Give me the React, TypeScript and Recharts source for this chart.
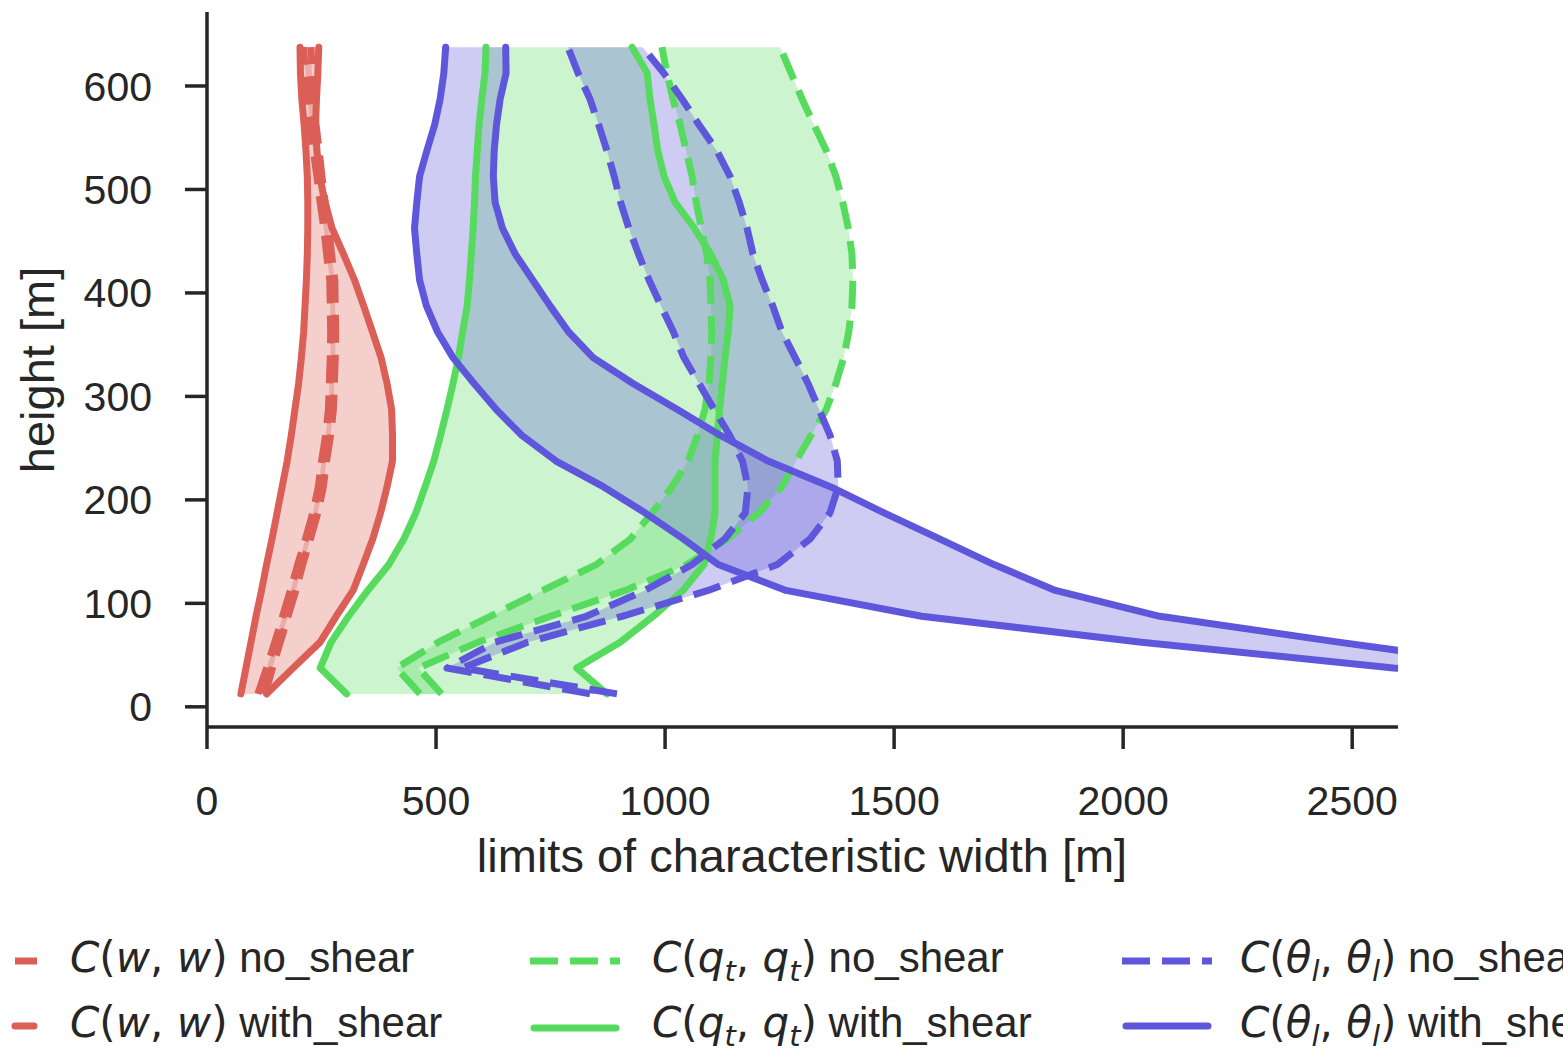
import React from 'react';
import { Area, ComposedChart, Line, XAxis, YAxis } from 'recharts';

// heights of the profile levels [m], bottom to top
const heights = [
  12.5, 37.5, 62.5, 87.5, 112.5, 137.5, 162.5, 187.5, 212.5, 237.5, 262.5, 287.5, 312.5,
  337.5, 362.5, 387.5, 412.5, 437.5, 462.5, 487.5, 512.5, 537.5, 562.5, 587.5, 612.5, 637.5,
];

// lower / upper limits of characteristic width [m] per level
const wNoShearLo = [111, 130, 148, 165, 182, 198, 215, 231, 243, 250, 259, 265, 267, 269, 270, 269, 268, 261, 255, 247, 240, 232, 225, 219, 215, 210];
const wNoShearHi = [127, 143, 160, 177, 194, 209, 226, 242, 254, 261, 270, 276, 278, 280, 281, 280, 279, 272, 266, 258, 251, 245, 238, 232, 229, 227];
const wShearLo = [74, 85, 96, 107, 119, 130, 142, 153, 164, 175, 184, 192, 200, 206, 211, 214, 217, 219, 220, 220, 219, 216, 212, 207, 204, 203];
const wShearHi = [130, 188, 247, 282, 319, 341, 362, 379, 393, 405, 405, 403, 393, 380, 361, 342, 322, 298, 273, 258, 246, 240, 237, 239, 242, 244];

const qNoShearLo = [465, 414, 505, 618, 733, 850, 925, 972, 1015, 1050, 1071, 1087, 1096, 1100, 1102, 1100, 1098, 1091, 1079, 1068, 1059, 1046, 1033, 1017, 1004, 993];
const qNoShearHi = [512, 461, 592, 750, 913, 1048, 1137, 1205, 1255, 1286, 1319, 1352, 1373, 1390, 1401, 1408, 1410, 1408, 1400, 1388, 1373, 1352, 1325, 1299, 1275, 1251];
const qShearLo = [305, 247, 271, 309, 351, 397, 430, 456, 476, 495, 510, 524, 537, 549, 558, 568, 573, 577, 581, 584, 586, 590, 594, 600, 607, 609];
const qShearHi = [873, 807, 902, 974, 1039, 1085, 1100, 1109, 1109, 1109, 1114, 1119, 1125, 1131, 1138, 1142, 1127, 1100, 1064, 1022, 998, 984, 976, 967, 961, 928];

const tNoShearLo = [836, 524, 629, 828, 956, 1059, 1131, 1175, 1181, 1169, 1141, 1107, 1074, 1041, 1018, 991, 965, 942, 921, 903, 889, 873, 855, 836, 810, 788];
const tNoShearHi = [895, 557, 700, 906, 1094, 1245, 1317, 1360, 1378, 1376, 1360, 1336, 1312, 1284, 1255, 1235, 1212, 1192, 1179, 1162, 1142, 1113, 1074, 1037, 997, 951];
const tShearLo = [3400, 2590, 2040, 1560, 1264, 1116, 1039, 956, 866, 762, 687, 631, 583, 537, 503, 479, 464, 458, 453, 458, 464, 480, 497, 509, 517, 521];
const tShearHi = [3500, 2880, 2470, 2080, 1852, 1718, 1598, 1478, 1362, 1225, 1120, 1026, 930, 843, 789, 749, 711, 673, 645, 629, 625, 627, 632, 640, 653, 652];

const xTicks = [0, 500, 1000, 1500, 2000, 2500];
const yTicks = [0, 100, 200, 300, 400, 500, 600];

const RED = '#db5f57';
const GREEN = '#57db5f';
const BLUE = '#5f57db';
const INK = '#262626';
const FONT = '"Liberation Sans", Arial, Helvetica, sans-serif';
const MATH_FONT = '"DejaVu Sans", sans-serif';
const DASH = '28 12';

const rows = heights.map((h, i) => ({
  h,
  wNoLo: wNoShearLo[i],
  wNoHi: wNoShearHi[i],
  wShLo: wShearLo[i],
  wShHi: wShearHi[i],
  qNoLo: qNoShearLo[i],
  qNoHi: qNoShearHi[i],
  qShLo: qShearLo[i],
  qShHi: qShearHi[i],
  tNoLo: tNoShearLo[i],
  tNoHi: tNoShearHi[i],
  tShLo: tShearLo[i],
  tShHi: tShearHi[i],
}));

// band pairs: [lower key, upper key, colour, dashed]
const bands: [string, string, string, boolean][] = [
  ['wNoLo', 'wNoHi', RED, true],
  ['wShLo', 'wShHi', RED, false],
  ['qNoLo', 'qNoHi', GREEN, true],
  ['qShLo', 'qShHi', GREEN, false],
  ['tNoLo', 'tNoHi', BLUE, true],
  ['tShLo', 'tShHi', BLUE, false],
];

type Seg = { t: string; it?: boolean; sub?: boolean; math?: boolean };

function MathLabel({ x, y, segs }: { x: number; y: number; segs: Seg[] }) {
  let lowered = false;
  return (
    <text x={x} y={y} fill={INK} fontSize={42} fontFamily={FONT}>
      {segs.map((s, i) => {
        let dy = 0;
        if (s.sub && !lowered) {
          dy = 9;
          lowered = true;
        } else if (!s.sub && lowered) {
          dy = -9;
          lowered = false;
        }
        return (
          <tspan
            key={i}
            dy={dy || undefined}
            fontStyle={s.it ? 'italic' : 'normal'}
            fontFamily={s.math ? MATH_FONT : FONT}
            fontSize={s.sub ? 29 : 42}
          >
            {s.t}
          </tspan>
        );
      })}
    </text>
  );
}

const pair = (v: string, sub?: string): Seg[] => {
  const one: Seg[] = [{ t: v, it: true, math: true }];
  if (sub) one.push({ t: sub, it: true, sub: true, math: true });
  return [
    { t: 'C', it: true, math: true },
    { t: '(', math: true },
    ...one,
    { t: ', ', math: true },
    ...one,
    { t: ')', math: true },
  ];
};

function Overlay() {
  return (
    <svg
      width={1563}
      height={1050}
      style={{ position: 'absolute', left: 0, top: 0, pointerEvents: 'none' }}
    >
      <text x={802} y={872} textAnchor="middle" fill={INK} fontSize={47} fontFamily={FONT}>
        limits of characteristic width [m]
      </text>
      <text
        transform="translate(54,370) rotate(-90)"
        textAnchor="middle"
        fill={INK}
        fontSize={47}
        fontFamily={FONT}
      >
        height [m]
      </text>

      {/* legend handles */}
      <line x1={15} x2={37} y1={961} y2={961} stroke={RED} strokeWidth={7} />
      <line x1={15} x2={34} y1={1026} y2={1026} stroke={RED} strokeWidth={7} strokeLinecap="round" />
      <line x1={530} x2={620} y1={961} y2={961} stroke={GREEN} strokeWidth={7} strokeDasharray={DASH} />
      <line x1={534} x2={616} y1={1028} y2={1028} stroke={GREEN} strokeWidth={7} strokeLinecap="round" />
      <line x1={1122} x2={1212} y1={961} y2={961} stroke={BLUE} strokeWidth={7} strokeDasharray={DASH} />
      <line x1={1126} x2={1208} y1={1026} y2={1026} stroke={BLUE} strokeWidth={7} strokeLinecap="round" />

      <MathLabel x={70} y={972} segs={[...pair('w'), { t: ' no_shear' }]} />
      <MathLabel x={70} y={1037} segs={[...pair('w'), { t: ' with_shear' }]} />
      <MathLabel x={652} y={972} segs={[...pair('q', 't'), { t: ' no_shear' }]} />
      <MathLabel x={652} y={1037} segs={[...pair('q', 't'), { t: ' with_shear' }]} />
      <MathLabel x={1240} y={972} segs={[...pair('θ', 'l'), { t: ' no_shear' }]} />
      <MathLabel x={1240} y={1037} segs={[...pair('θ', 'l'), { t: ' with_shear' }]} />
    </svg>
  );
}

export default function App() {
  const tick = { fill: INK, fontSize: 41, fontFamily: FONT };
  const spine = { stroke: INK, strokeWidth: 3.5 };
  return (
    <div
      style={{
        position: 'absolute',
        left: 0,
        top: 0,
        width: 1563,
        height: 1050,
        overflow: 'hidden',
        background: '#fff',
      }}
    >
      <ComposedChart
        layout="vertical"
        width={1563}
        height={1050}
        data={rows}
        margin={{ top: 12, right: 165, bottom: 163, left: 0 }}
      >
        <XAxis
          type="number"
          domain={[0, 2600]}
          ticks={xTicks}
          allowDataOverflow
          height={160}
          tickSize={22}
          tickMargin={37}
          axisLine={spine}
          tickLine={spine}
          tick={tick}
        />
        <YAxis
          type="number"
          dataKey="h"
          domain={[-19.5, 671.5]}
          ticks={yTicks}
          reversed
          allowDataOverflow
          width={207}
          tickSize={22}
          tickMargin={33}
          axisLine={spine}
          tickLine={spine}
          tick={tick}
        />
        {bands.map(([lo, hi, color]) => (
          <Area
            key={`fill-${lo}`}
            type="linear"
            dataKey={(d: any) => [d[lo], d[hi]]}
            fill={color}
            fillOpacity={0.3}
            stroke="none"
            dot={false}
            activeDot={false}
            isAnimationActive={false}
          />
        ))}
        {bands.flatMap(([lo, hi, color, dashed]) =>
          [lo, hi].map((key) => (
            <Line
              key={`line-${key}`}
              type="linear"
              dataKey={key}
              stroke={color}
              strokeWidth={7}
              strokeDasharray={dashed ? DASH : undefined}
              strokeLinecap={dashed ? 'butt' : 'round'}
              strokeLinejoin="round"
              dot={false}
              activeDot={false}
              isAnimationActive={false}
            />
          )),
        )}
      </ComposedChart>
      <Overlay />
    </div>
  );
}
